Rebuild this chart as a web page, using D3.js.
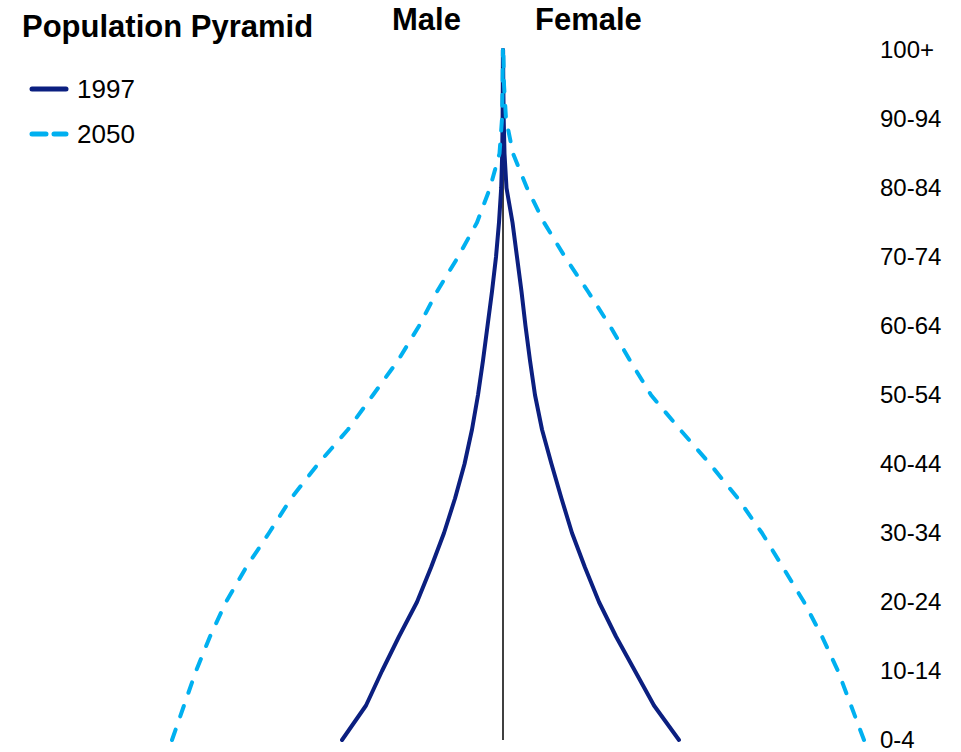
<!DOCTYPE html>
<html>
<head>
<meta charset="utf-8">
<script src="https://cdn.jsdelivr.net/npm/d3@7"></script>
<style>
  body { margin: 0; background: #fff; }
  text { font-family: "Liberation Sans", Arial, sans-serif; }
</style>
</head>
<body>
<script>
var ageGroups = ['0-4','5-9','10-14','15-19','20-24','25-29','30-34','35-39','40-44','45-49',
                 '50-54','55-59','60-64','65-69','70-74','75-79','80-84','85-89','90-94','95-99','100+'];
// population in thousands
var male1997   = [1610, 1370, 1210, 1040, 860, 720, 590, 480, 385, 310, 250, 200, 155, 110, 70, 40, 18, 8, 4, 2, 1];
var female1997 = [1760, 1510, 1320, 1130, 960, 820, 690, 585, 485, 390, 320, 270, 225, 185, 140, 95, 35, 15, 7, 3, 1];
var male2050   = [3310, 3190, 3070, 2930, 2770, 2570, 2340, 2120, 1850, 1550, 1300, 1050, 840, 660, 450, 260, 130, 35, 10, 4, 1];
var female2050 = [3610, 3480, 3350, 3190, 3010, 2800, 2590, 2350, 2070, 1770, 1480, 1270, 1070, 850, 620, 410, 240, 100, 30, 10, 3];
var axisLabels = ['0-4','10-14','20-24','30-34','40-44','50-54','60-64','70-74','80-84','90-94','100+'];

var width = 961, height = 752;
var navy = "#0b1f80", light = "#00b0f0";

var svg = d3.select("body").append("svg")
    .attr("width", width)
    .attr("height", height);

var x = d3.scaleLinear()
    .domain([-4000, 4000])
    .range([103, 903]);

var y = d3.scalePoint()
    .domain(ageGroups)
    .range([740, 50]);

// right side age labels
var yAxis = d3.axisRight(y)
    .tickValues(axisLabels)
    .tickSize(0)
    .tickPadding(0);

var axisG = svg.append("g")
    .attr("transform", "translate(880,0)")
    .call(yAxis);
axisG.select(".domain").remove();
axisG.selectAll("text")
    .attr("font-family", "Liberation Sans, Arial, sans-serif")
    .attr("font-size", 24)
    .attr("fill", "#000")
    .attr("text-anchor", "start");

// centre line
svg.append("line")
    .attr("x1", x(0)).attr("x2", x(0))
    .attr("y1", y('100+') - 2).attr("y2", y('0-4'))
    .attr("stroke", "#000")
    .attr("stroke-width", 1.5);

var line = d3.line()
    .x(function(d) { return x(d.v); })
    .y(function(d) { return y(d.age); });

function side(values, sign) {
    return values.map(function(v, i) { return {age: ageGroups[i], v: sign * v}; });
}

var series = [
    {data: side(male1997, -1), color: navy, dash: null},
    {data: side(female1997, 1), color: navy, dash: null},
    {data: side(male2050, -1), color: light, dash: "11,14"},
    {data: side(female2050, 1), color: light, dash: "11,14"}
];

svg.selectAll("path.series")
    .data(series)
    .enter().append("path")
    .attr("class", "series")
    .attr("d", function(d) { return line(d.data); })
    .attr("fill", "none")
    .attr("stroke", function(d) { return d.color; })
    .attr("stroke-width", 4)
    .attr("stroke-linecap", "round")
    .attr("stroke-linejoin", "round")
    .attr("stroke-dasharray", function(d) { return d.dash; });

// titles
svg.append("text")
    .attr("x", 22).attr("y", 37)
    .attr("font-size", 31).attr("font-weight", "bold")
    .text("Population Pyramid");

svg.append("text")
    .attr("x", 392).attr("y", 30)
    .attr("font-size", 31).attr("font-weight", "bold")
    .text("Male");

svg.append("text")
    .attr("x", 535).attr("y", 30)
    .attr("font-size", 31).attr("font-weight", "bold")
    .text("Female");

// legend
var legend = [
    {label: "1997", color: navy, dash: null, y: 89},
    {label: "2050", color: light, dash: "14,8", y: 134}
];
var lg = svg.selectAll("g.legend")
    .data(legend)
    .enter().append("g")
    .attr("class", "legend")
    .attr("transform", function(d) { return "translate(0," + d.y + ")"; });
lg.append("line")
    .attr("x1", 32).attr("x2", 66)
    .attr("stroke", function(d) { return d.color; })
    .attr("stroke-width", 5)
    .attr("stroke-linecap", "round")
    .attr("stroke-dasharray", function(d) { return d.dash; });
lg.append("text")
    .attr("x", 77).attr("y", 9)
    .attr("font-size", 26)
    .text(function(d) { return d.label; });
</script>
</body>
</html>
